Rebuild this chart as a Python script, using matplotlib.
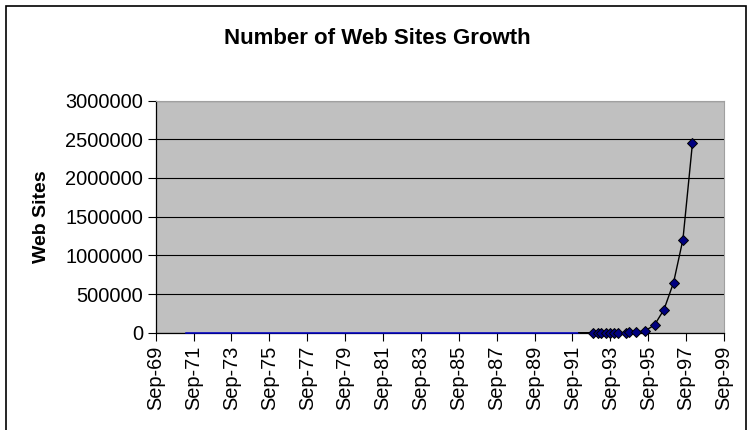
import datetime as dt
import matplotlib
matplotlib.use("Agg")
import matplotlib.pyplot as plt
import matplotlib.dates as mdates
from matplotlib.patches import Rectangle

# Number of web sites (black series with markers)
site_dates = ["1992-01", "1992-10", "1993-01", "1993-03", "1993-06", "1993-09",
              "1993-11", "1994-02", "1994-07", "1994-09", "1995-01", "1995-07",
              "1996-01", "1996-07", "1997-01", "1997-07", "1998-01"]
site_counts = [0, 50, 100, 120, 130, 204, 228, 623, 1500, 2738, 10022, 23500,
               100000, 299403, 646162, 1203096, 2450000]

# Flat early series along the baseline (blue)
early_dates = ["1971-04", "1975-01", "1979-01", "1983-01", "1987-01", "1992-01"]
early_counts = [0, 0, 0, 0, 0, 0]

y_ticks = [0, 500000, 1000000, 1500000, 2000000, 2500000, 3000000]
x_tick_years = list(range(1969, 2000, 2))

title_text = "Number of Web Sites Growth"
y_label = "Web Sites"


def to_date(s):
    y, m = s.split("-")
    return dt.datetime(int(y), int(m), 1)


plt.rcParams["font.family"] = ["Liberation Sans", "DejaVu Sans"]

W, H = 747, 430
fig = plt.figure(figsize=(W / 100, H / 100), dpi=100)
fig.patch.set_facecolor("white")

left, right = 155.7 / W, 724.0 / W
bottom, top = 1 - 332.7 / H, 1 - 100.5 / H
ax = fig.add_axes([left, bottom, right - left, top - bottom])
ax.set_facecolor("#C0C0C0")

ed = [to_date(s) for s in early_dates]
ax.plot(ed, early_counts, color="#0000C8", linewidth=1.1, zorder=3,
        clip_on=False)

sd = [to_date(s) for s in site_dates]
ax.plot(sd, site_counts, color="black", linewidth=1.0, zorder=4,
        marker="D", markersize=5.0, markerfacecolor="#000080",
        markeredgecolor="black", markeredgewidth=0.7,
        markevery=list(range(1, len(sd))), clip_on=False)

ax.set_xlim(dt.datetime(1969, 9, 1), dt.datetime(1999, 9, 1))
ax.set_ylim(0, 3000000)

ax.set_yticks(y_ticks)
ax.set_yticklabels([str(v) for v in y_ticks])
ax.yaxis.grid(True, color="black", linewidth=0.8)
ax.set_axisbelow(True)

xt = [dt.datetime(y, 9, 1) for y in x_tick_years]
ax.set_xticks(xt)
ax.xaxis.set_major_formatter(mdates.DateFormatter("%b-%y"))
for lbl in ax.get_xticklabels():
    lbl.set_rotation(90)

ax.tick_params(axis="both", labelsize=14.4, direction="out", length=6,
               width=0.8, color="black", pad=3)

for side in ("left", "bottom"):
    ax.spines[side].set_color("black")
    ax.spines[side].set_linewidth(0.9)
for side in ("top", "right"):
    ax.spines[side].set_color("#A0A0A0")
    ax.spines[side].set_linewidth(0.8)

fig.text(377 / W, 1 - 38 / H, title_text, ha="center", va="center",
         fontsize=16, fontweight="bold")
fig.text(41.7 / W, 1 - 216.6 / H, y_label, ha="center", va="center",
         rotation=90, fontsize=14, fontweight="bold")

# Chart-area frame
fig.patches.append(Rectangle((6 / W, -0.02), (746 - 6) / W, 1.02 - 5.5 / H,
                             transform=fig.transFigure, fill=False,
                             edgecolor="black", linewidth=1.2, zorder=10))

fig.savefig("out.png", dpi=100)
